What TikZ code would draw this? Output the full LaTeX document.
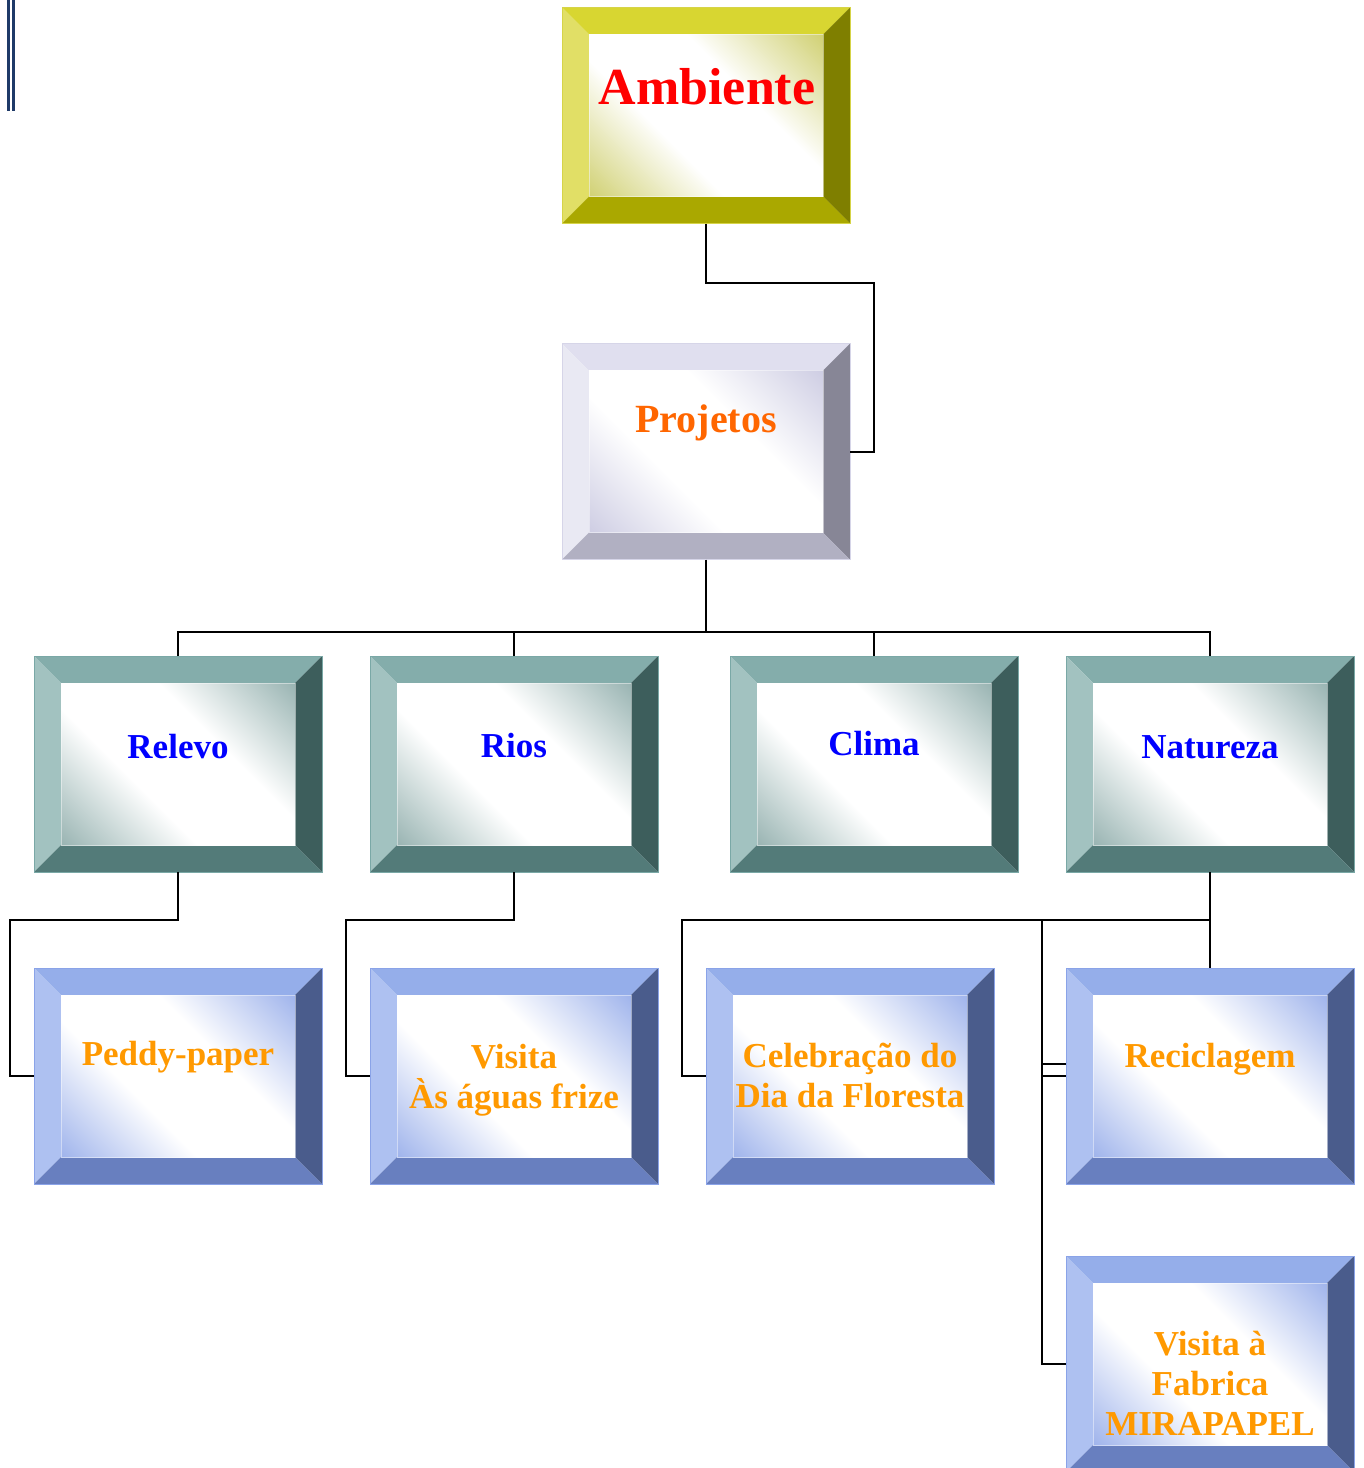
\documentclass[tikz,border=0pt]{standalone}
\usepackage{fontspec}
\setmainfont{Liberation Serif}
\usetikzlibrary{calc}

% frame colours: top, left, right, bottom, inner tint, outline
\definecolor{ambT}{HTML}{D8D631}\definecolor{ambL}{HTML}{E1DF66}
\definecolor{ambR}{HTML}{7F7F00}\definecolor{ambB}{HTML}{AAA800}
\definecolor{ambI}{HTML}{C8C85A}\definecolor{ambE}{HTML}{D6D448}
\definecolor{prjT}{HTML}{E0DFEF}\definecolor{prjL}{HTML}{E9E9F3}
\definecolor{prjR}{HTML}{878696}\definecolor{prjB}{HTML}{B1B0C2}
\definecolor{prjI}{HTML}{C5C4DE}\definecolor{prjE}{HTML}{D6D5E8}
\definecolor{tlT}{HTML}{84ADAB}\definecolor{tlL}{HTML}{A2C2C0}
\definecolor{tlR}{HTML}{3D5E5C}\definecolor{tlB}{HTML}{537B79}
\definecolor{tlI}{HTML}{86A6A4}\definecolor{tlE}{HTML}{7AA8A6}
\definecolor{blT}{HTML}{95AEEA}\definecolor{blL}{HTML}{AEC1F1}
\definecolor{blR}{HTML}{4A5C8C}\definecolor{blB}{HTML}{687FBF}
\definecolor{blI}{HTML}{8EA6E8}\definecolor{blE}{HTML}{8AA3E8}
\definecolor{navy}{HTML}{1F3A68}
\definecolor{txtRed}{HTML}{FF0000}
\definecolor{txtPrj}{HTML}{FF6600}
\definecolor{txtBlue}{HTML}{0000FF}
\definecolor{txtOra}{HTML}{FF9900}

% diagonal tint: coloured corners, white band through the middle
\pgfdeclareverticalshading{shAmb}{100bp}{color(0bp)=(ambI); color(10bp)=(ambI); color(39bp)=(white); color(61bp)=(white); color(90bp)=(ambI); color(100bp)=(ambI)}
\pgfdeclareverticalshading{shPrj}{100bp}{color(0bp)=(prjI); color(10bp)=(prjI); color(39bp)=(white); color(61bp)=(white); color(90bp)=(prjI); color(100bp)=(prjI)}
\pgfdeclareverticalshading{shTl}{100bp}{color(0bp)=(tlI); color(10bp)=(tlI); color(39bp)=(white); color(61bp)=(white); color(90bp)=(tlI); color(100bp)=(tlI)}
\pgfdeclareverticalshading{shBl}{100bp}{color(0bp)=(blI); color(10bp)=(blI); color(39bp)=(white); color(61bp)=(white); color(90bp)=(blI); color(100bp)=(blI)}

\tikzset{
  bvset/.code n args={5}{\def\bvT{#1}\def\bvL{#2}\def\bvR{#3}\def\bvBt{#4}\def\bvS{#5}},
  bevelbox/.style={rectangle, minimum width=288pt, minimum height=216pt,
    inner sep=0pt, outer sep=0pt, line width=0.8pt,
    path picture={
      \path (path picture bounding box.north west) coordinate (bvA)
            (path picture bounding box.north east) coordinate (bvB)
            (path picture bounding box.south east) coordinate (bvC)
            (path picture bounding box.south west) coordinate (bvD);
      \path ([shift={(27pt,-27pt)}]bvA) coordinate (bva)
            ([shift={(-27pt,-27pt)}]bvB) coordinate (bvb)
            ([shift={(-27pt,27pt)}]bvC) coordinate (bvc)
            ([shift={(27pt,27pt)}]bvD) coordinate (bvd);
      \fill[fill=\bvT] (bvA) -- (bvB) -- (bvb) -- (bva) -- cycle;
      \fill[fill=\bvL] (bvA) -- (bva) -- (bvd) -- (bvD) -- cycle;
      \fill[fill=\bvR] (bvB) -- (bvC) -- (bvc) -- (bvb) -- cycle;
      \fill[fill=\bvBt] (bvD) -- (bvd) -- (bvc) -- (bvC) -- cycle;
      \shade[shading=\bvS, shading angle=-45] (bva) rectangle (bvc);
      \draw[white, opacity=0.45, line width=0.8pt] (bva) rectangle (bvc);
    }},
  ambbox/.style={bevelbox, draw=ambE, bvset={ambT}{ambL}{ambR}{ambB}{shAmb}},
  prjbox/.style={bevelbox, draw=prjE, bvset={prjT}{prjL}{prjR}{prjB}{shPrj}},
  tlbox/.style={bevelbox, draw=tlE, bvset={tlT}{tlL}{tlR}{tlB}{shTl}},
  blbox/.style={bevelbox, draw=blE, bvset={blT}{blL}{blR}{blB}{shBl}},
  % anchor=base sits on the last line of a multi-line label
  lbl/.style={inner sep=0pt, align=center, anchor=base,
    font=\bfseries\fontsize{35}{40}\selectfont},
  tltxt/.style={lbl, text=txtBlue},
  bltxt/.style={lbl, text=txtOra},
  conn/.style={draw=black, line width=2pt},
}

\begin{document}
\begin{tikzpicture}[x=1pt, y=-1pt]
\useasboundingbox (0,0) rectangle (1364,1468);
\fill[white] (0,0) rectangle (1364,1468);

% page rule at the top left
\fill[navy] (7.3,0) rectangle (9.8,111);
\fill[navy] (12.3,0) rectangle (15.3,111);

% boxes
\node[ambbox] (amb)  at (706,115.5) {};
\node[prjbox] (prj)  at (706,451.5) {};
\node[tlbox]  (rel)  at (178,764) {};
\node[tlbox]  (rio)  at (514,764) {};
\node[tlbox]  (cli)  at (874,764) {};
\node[tlbox]  (nat)  at (1210,764) {};
\node[blbox]  (ped)  at (178,1076) {};
\node[blbox]  (vis)  at (514,1076) {};
\node[blbox]  (cel)  at (850,1076) {};
\node[blbox]  (rec)  at (1210,1076) {};
\node[blbox]  (mir)  at (1210,1364) {};

% labels
\node[lbl, text=txtRed, font=\bfseries\fontsize{52}{56}\selectfont] (amb-t) at (707,104) {Ambiente};
\node[lbl, text=txtPrj, font=\bfseries\fontsize{40}{44}\selectfont] (prj-t) at (706,432) {Projetos};
\node[tltxt] (rel-t) at (178,758) {Relevo};
\node[tltxt] (rio-t) at (514,757) {Rios};
\node[tltxt] (cli-t) at (874,755) {Clima};
\node[tltxt] (nat-t) at (1210,758) {Natureza};
\node[bltxt] (ped-t) at (178,1065) {Peddy-paper};
\node[bltxt] (vis-t) at (514,1108) {Visita\\Às águas frize};
\node[bltxt] (cel-t) at (850,1107) {Celebração do\\Dia da Floresta};
\node[bltxt] (rec-t) at (1210,1067) {Reciclagem};
\node[bltxt] (mir-t) at (1210,1435) {Visita à\\Fabrica\\MIRAPAPEL};

% connector bends
\coordinate (k1) at (874,283);
\coordinate (bus) at (706,632);
\coordinate (r1) at (10,920);
\coordinate (r2) at (346,920);
\coordinate (n1) at (682,920);
\coordinate (n2) at (1042,920);
\coordinate (n3) at (1042,1064);

% connectors
\draw[conn] (amb.south) |- (k1) |- (prj.east);
\draw[conn] (prj.south) -- (bus);
\draw[conn] (rel.north) |- (bus) -| (nat.north);
\draw[conn] (rio.north) -- (rio.north |- bus);
\draw[conn] (cli.north) -- (cli.north |- bus);
\draw[conn] (rel.south) |- (r1) |- (ped.west);
\draw[conn] (rio.south) |- (r2) |- (vis.west);
\draw[conn] (nat.south) |- (n1) |- (cel.west);
\draw[conn] (nat.south) -- (rec.north);
\draw[conn] (n2) |- (mir.west);
\draw[conn] (n2 |- rec.west) -- (rec.west);
\draw[conn] (n3) -- (n3 -| rec.west);
\end{tikzpicture}
\end{document}
